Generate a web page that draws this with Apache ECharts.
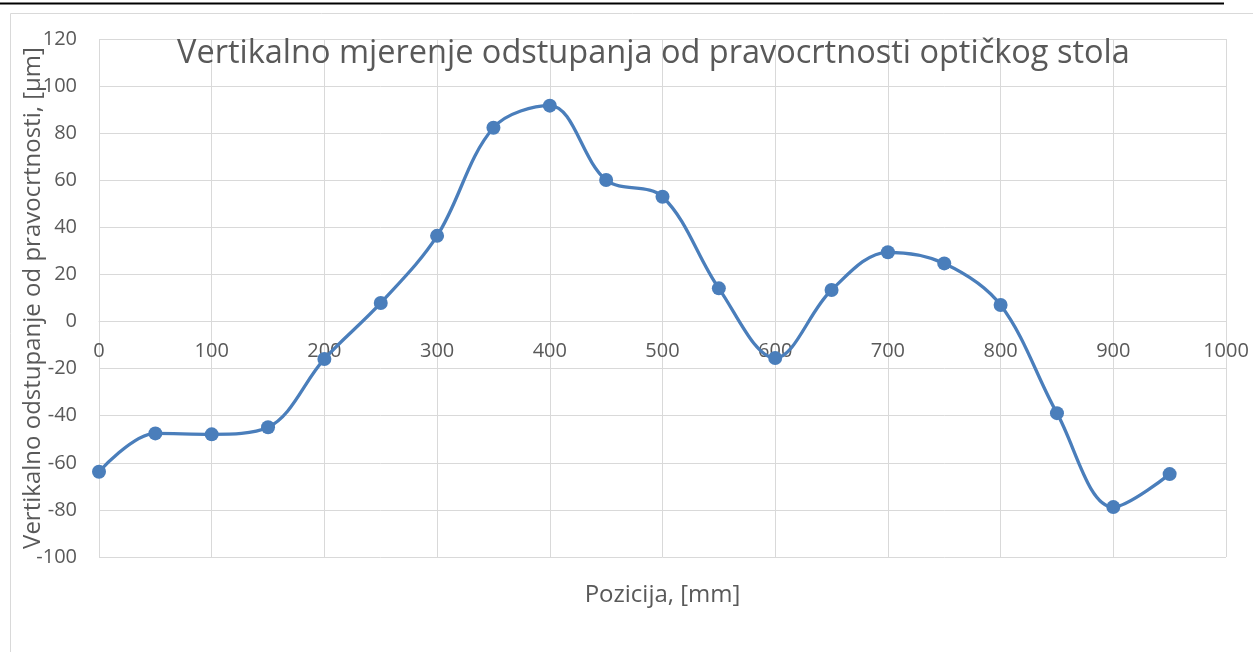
<!DOCTYPE html>
<html>
<head>
<meta charset="utf-8">
<script src="https://cdn.jsdelivr.net/npm/echarts@6/dist/echarts.min.js"></script>
<style>
  html, body { margin: 0; padding: 0; background: #fff; }
  #main { width: 1253px; height: 652px; }
</style>
</head>
<body>
<div id="main"></div>
<script>
// positions along the table, mm
const pozicija = [0, 50, 100, 150, 200, 250, 300, 350, 400, 450, 500, 550, 600, 650, 700, 750, 800, 850, 900, 950];
// vertical deviation, um
const odstupanje = [-63.8, -47.5, -47.9, -44.9, -15.9, 7.9, 36.4, 82.3, 91.7, 60.1, 53.0, 14.1, -15.5, 13.4, 29.4, 24.7, 7.0, -38.9, -78.8, -64.8];

const titleText = 'Vertikalno mjerenje odstupanja od pravocrtnosti optičkog stola';
const xName = 'Pozicija, [mm]';
const yName = 'Vertikalno odstupanje od pravocrtnosti, [μm]';

const font = '"Open Sans"';
const textColor = '#595959';
const gridColor = '#d9d9d9';
const lineColor = '#4a7ebb';

// plot box
const gTop = 39, gBottom = 95, chartH = 652;
const plotH = chartH - gTop - gBottom;
const yMin = -100, yMax = 120;
// distance from plot bottom up to the zero line (x axis crosses at 0)
const zeroFromBottom = plotH * (0 - yMin) / (yMax - yMin);

let chart = echarts.init(document.getElementById('main'));

let points = pozicija.map((x, i) => [x, odstupanje[i]]);

let option = {
    animation: false,
    textStyle: { fontFamily: font },
    title: {
        text: titleText,
        left: 177,
        top: 37,
        padding: 0,
        textStyle: { fontFamily: font, fontSize: 32.5, fontWeight: 'normal', color: textColor }
    },
    grid: { left: 99, right: 27, top: gTop, bottom: gBottom, outerBoundsMode: 'none', containLabel: false },
    graphic: [
        { type: 'rect', silent: true, shape: { x: 10.5, y: 13.5, width: 1400, height: 800 },
          style: { fill: null, stroke: gridColor, lineWidth: 1 } },
        { type: 'line', silent: true, shape: { x1: 0, y1: 3.5, x2: 1224, y2: 3.5 },
          style: { stroke: '#000', lineWidth: 2 } }
    ],
    xAxis: {
        type: 'value',
        min: 0,
        max: 1000,
        interval: 100,
        offset: -zeroFromBottom,
        name: xName,
        nameLocation: 'middle',
        nameGap: 262,
        nameMoveOverlap: false,
        nameTextStyle: { fontFamily: font, fontSize: 24, color: textColor },
        axisLine: { show: true, onZero: false, lineStyle: { color: gridColor, width: 1 } },
        axisTick: { show: false },
        axisLabel: { fontFamily: font, fontSize: 20, color: textColor, margin: 20, formatter: v => String(v) },
        splitLine: { show: true, lineStyle: { color: gridColor, width: 1 } }
    },
    yAxis: {
        type: 'value',
        min: yMin,
        max: yMax,
        interval: 20,
        name: yName,
        nameLocation: 'middle',
        nameGap: 54,
        nameMoveOverlap: false,
        nameTextStyle: { fontFamily: font, fontSize: 24, color: textColor },
        axisLine: { show: false },
        axisTick: { show: false },
        axisLabel: { fontFamily: font, fontSize: 20, color: textColor, margin: 22, formatter: v => String(v) },
        splitLine: { show: true, lineStyle: { color: gridColor, width: 1 } }
    },
    series: [{
        type: 'line',
        data: points,
        smooth: 0.35,
        symbol: 'circle',
        symbolSize: 14,
        itemStyle: { color: lineColor },
        lineStyle: { color: lineColor, width: 3.3 }
    }]
};

chart.setOption(option);
</script>
</body>
</html>
